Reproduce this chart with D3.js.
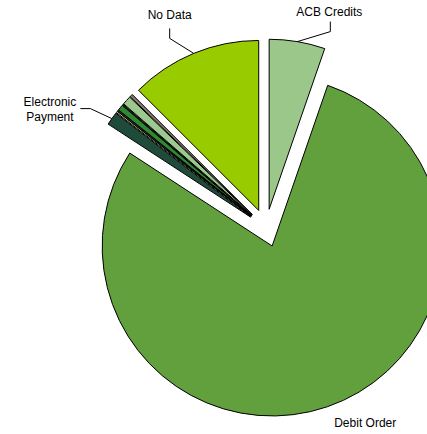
<!DOCTYPE html>
<html>
<head>
<meta charset="utf-8">
<script src="https://cdn.jsdelivr.net/npm/d3@7/dist/d3.min.js"></script>
<style>
  html, body { margin: 0; padding: 0; background: #fff; }
  svg { display: block; }
</style>
</head>
<body>
<script>
// Payment method share (%)
const categories = ["ACB Credits", "Debit Order", "Electronic Payment", "Cash", "Stop Order", "Cheque", "Salary Deduction", "Credit Card", "Other", "No Data"];
const shares     = [5.3, 78.9, 1.25, 0.15, 0.12, 0.55, 0.1, 0.85, 0.28, 12.5];
const colors     = ["#9bc88a", "#62a03e", "#1e4b3a", "#d6c38a", "#1e4b3a", "#2e8a2e", "#1e4b3a", "#9cc98e", "#8a7a6a", "#99cc00"];

const W = 427, H = 434;
const cx = 266, cy = 228, R = 170, explode = 19;

const svg = d3.select("body").append("svg")
  .attr("width", W).attr("height", H);

const data = categories.map((c, i) => ({ name: c, value: shares[i], color: colors[i] }));

const pie = d3.pie().value(d => d.value).sort(null).startAngle(0).endAngle(2 * Math.PI);
const arcs = pie(data);
const arc = d3.arc().innerRadius(0).outerRadius(R);

function offsetOf(a) {
  const m = (a.startAngle + a.endAngle) / 2;
  return [explode * Math.sin(m), -explode * Math.cos(m)];
}

const g = svg.append("g").attr("transform", `translate(${cx},${cy})`);

g.selectAll("path.slice").data(arcs).enter().append("path")
  .attr("class", "slice")
  .attr("transform", d => { const o = offsetOf(d); return `translate(${o[0]},${o[1]})`; })
  .attr("d", arc)
  .attr("fill", d => d.data.color)
  .attr("stroke", "#000")
  .attr("stroke-width", 1)
  .attr("stroke-linejoin", "round");

// Label layout, relative to the point on each slice's outer rim at its mid angle
const labelLayout = {
  "No Data":            { leader: [[-24, -15], [-24, -25]], text: [-24, -34], lines: ["No Data"] },
  "ACB Credits":        { leader: [[33, -10], [33, -20]],   text: [32, -26],  lines: ["ACB Credits"] },
  "Electronic Payment": { leader: [[-21.5, -10], [-31.5, -10]], text: [-62, -13], lines: ["Electronic", "Payment"] },
  "Debit Order":        { leader: null, text: [38, 20], lines: ["Debit Order"] }
};

const font = "Liberation Sans, Arial, sans-serif";

arcs.forEach(a => {
  const lay = labelLayout[a.data.name];
  if (!lay) return;
  const m = (a.startAngle + a.endAngle) / 2;
  const o = offsetOf(a);
  const ax = cx + o[0] + R * Math.sin(m);
  const ay = cy + o[1] - R * Math.cos(m);
  if (lay.leader) {
    const pts = [[ax, ay]].concat(lay.leader.map(p => [ax + p[0], ay + p[1]]));
    svg.append("polyline")
      .attr("points", pts.map(p => p.join(",")).join(" "))
      .attr("fill", "none").attr("stroke", "#000").attr("stroke-width", 1);
  }
  const t = svg.append("text")
    .attr("text-anchor", "middle").attr("font-family", font).attr("font-size", 12).attr("fill", "#000");
  lay.lines.forEach((ln, i) => {
    t.append("tspan").attr("x", ax + lay.text[0]).attr("y", ay + lay.text[1] + i * 15).text(ln);
  });
});
</script>
</body>
</html>
